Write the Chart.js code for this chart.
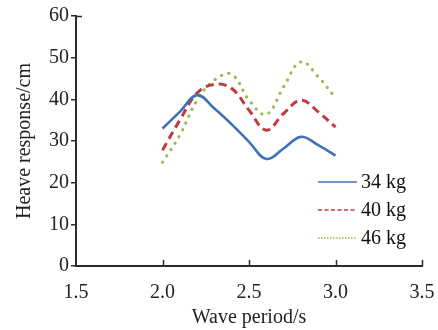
<!DOCTYPE html>
<html>
<head>
<meta charset="utf-8">
<script src="https://cdn.jsdelivr.net/npm/chart.js@4.4.1/dist/chart.umd.min.js"></script>
<style>
  html, body { margin: 0; padding: 0; background: #fff; }
  #wrap { width: 438px; height: 330px; }
</style>
</head>
<body>
<div id="wrap"><canvas id="myChart" width="438" height="330"></canvas></div>
<script>
// wave period (s)
const periods = [2.0, 2.1, 2.2, 2.3, 2.4, 2.5, 2.6, 2.7, 2.8, 2.9, 3.0];
// heave response (cm) per mass
const heave34 = [33.0, 37.0, 41.0, 37.8, 34.0, 29.8, 25.7, 28.2, 31.0, 29.0, 26.5];
const heave40 = [27.8, 35.0, 41.5, 43.6, 42.6, 37.4, 32.6, 36.6, 39.8, 37.0, 33.3];
const heave46 = [24.9, 31.4, 39.8, 44.6, 46.0, 39.8, 36.4, 43.0, 49.0, 45.4, 40.3];
const seriesNames = ['34 kg', '40 kg', '46 kg'];
const xTicks = [1.5, 2.0, 2.5, 3.0, 3.5];
const yTicks = [0, 10, 20, 30, 40, 50, 60];

const FONT = '"Liberation Serif", "Times New Roman", serif';
const AXIS = '#2b2b2b';

function pts(ys) {
  return periods.map((x, i) => ({ x: x, y: ys[i] }));
}

// inward ticks on the x axis + the little cap at the top of the y axis
const innerTicks = {
  id: 'innerTicks',
  afterDraw(chart) {
    const ctx = chart.ctx;
    const xs = chart.scales.x;
    const area = chart.chartArea;
    ctx.save();
    ctx.strokeStyle = AXIS;
    ctx.lineWidth = 1.5;
    xTicks.slice(1).forEach(v => {
      const px = Math.round(xs.getPixelForValue(v)) + 0.5;
      ctx.beginPath();
      ctx.moveTo(px, area.bottom);
      ctx.lineTo(px, area.bottom - 6);
      ctx.stroke();
    });
    ctx.beginPath();
    ctx.moveTo(area.left, area.top + 0.5);
    ctx.lineTo(area.left + 6, area.top + 0.5);
    ctx.stroke();
    ctx.restore();
  }
};

// legend drawn inside the plot, lower right
const inLegend = {
  id: 'inLegend',
  afterDraw(chart) {
    const ctx = chart.ctx;
    const x0 = 318, x1 = 357, tx = 361;
    let y = 182;
    ctx.save();
    ctx.font = '20px ' + FONT;
    ctx.textBaseline = 'middle';
    chart.data.datasets.forEach(ds => {
      ctx.strokeStyle = ds.borderColor;
      ctx.lineWidth = 1.6;
      ctx.setLineDash(ds.legendDash);
      ctx.lineCap = 'butt';
      ctx.beginPath();
      ctx.moveTo(x0, y);
      ctx.lineTo(x1, y);
      ctx.stroke();
      ctx.setLineDash([]);
      ctx.fillStyle = '#111';
      ctx.fillText(ds.label, tx, y + 1);
      y += 28;
    });
    ctx.restore();
  }
};

const ctx = document.getElementById('myChart').getContext('2d');
const myChart = new Chart(ctx, {
  type: 'line',
  data: {
    datasets: [
      {
        label: seriesNames[0],
        data: pts(heave34),
        borderColor: '#3f72b8',
        borderWidth: 2.6,
        legendDash: [],
        pointRadius: 0,
        tension: 0.4
      },
      {
        label: seriesNames[1],
        data: pts(heave40),
        borderColor: '#c2393d',
        borderWidth: 3,
        borderDash: [8, 5],
        legendDash: [4, 2.5],
        pointRadius: 0,
        tension: 0.4
      },
      {
        label: seriesNames[2],
        data: pts(heave46),
        borderColor: '#9aba55',
        borderWidth: 3.2,
        borderDash: [0.1, 7.5],
        borderCapStyle: 'round',
        legendDash: [1.5, 1.5],
        pointRadius: 0,
        tension: 0.4
      }
    ]
  },
  options: {
    responsive: false,
    animation: false,
    layout: { padding: { top: 16, right: 16, left: 0, bottom: 0 } },
    plugins: {
      legend: { display: false },
      tooltip: { enabled: false }
    },
    scales: {
      x: {
        type: 'linear',
        min: 1.5,
        max: 3.5,
        afterBuildTicks: axis => { axis.ticks = xTicks.map(v => ({ value: v })); },
        afterFit: axis => { axis.height = 64; axis.paddingRight = 0; axis.paddingLeft = 0; },
        border: { color: AXIS, width: 2 },
        grid: { display: false },
        ticks: {
          color: '#222',
          font: { family: FONT, size: 20 },
          padding: 7,
          maxRotation: 0,
          callback: v => v.toFixed(1)
        },
        title: {
          display: true,
          text: 'Wave period/s',
          color: '#222',
          font: { family: FONT, size: 20 },
          padding: { top: 0, bottom: 0 }
        }
      },
      y: {
        min: 0,
        max: 60,
        afterBuildTicks: axis => { axis.ticks = yTicks.map(v => ({ value: v })); },
        afterFit: axis => { axis.width = 76; axis.paddingTop = 0; axis.paddingBottom = 0; },
        border: { color: AXIS, width: 2 },
        grid: { drawOnChartArea: false, drawTicks: true, tickLength: 5, color: AXIS, lineWidth: 1.5 },
        ticks: {
          color: '#222',
          font: { family: FONT, size: 20 },
          padding: 2
        },
        title: {
          display: true,
          text: 'Heave response/cm',
          color: '#222',
          font: { family: FONT, size: 20 },
          padding: { top: 13, bottom: 0 }
        }
      }
    }
  },
  plugins: [innerTicks, inLegend]
});
</script>
</body>
</html>
